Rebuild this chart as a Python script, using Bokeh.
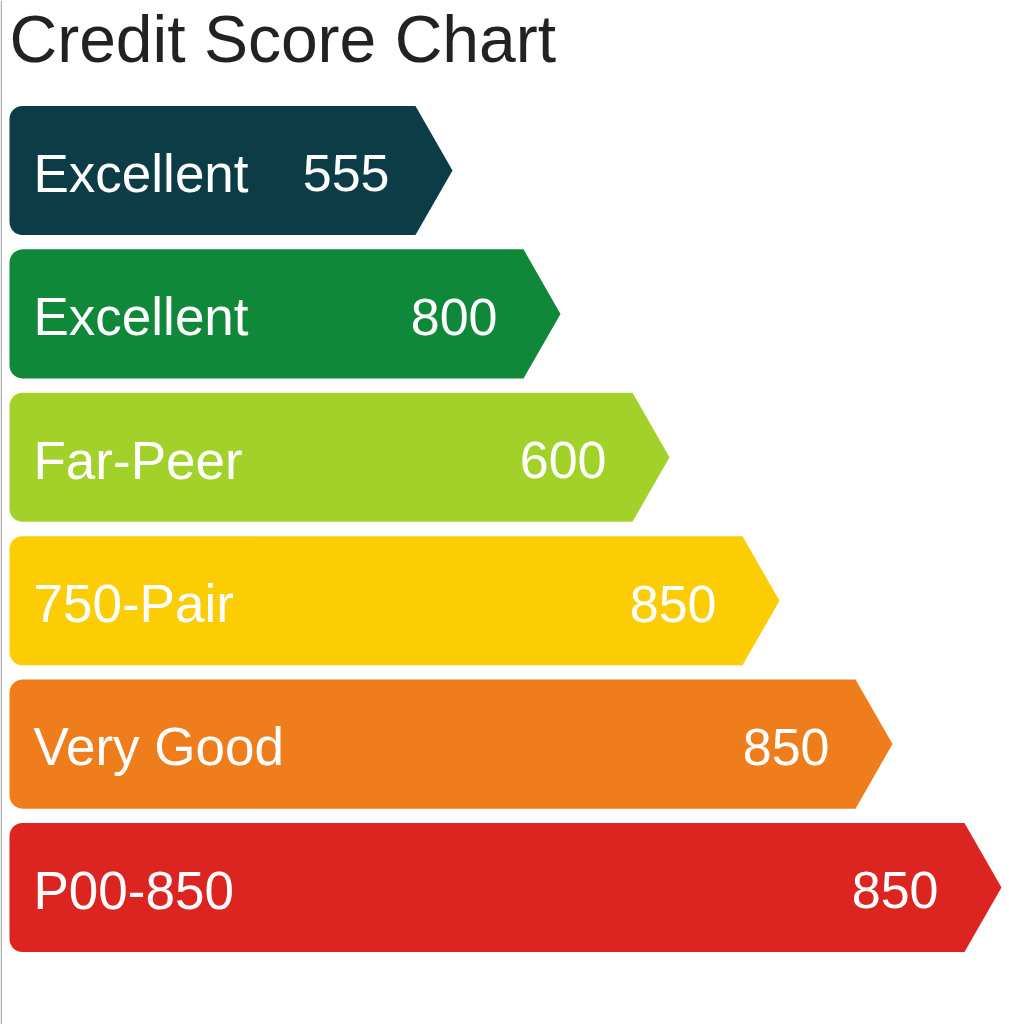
import numpy as np
from bokeh.plotting import figure
from bokeh.models import Range1d, Label, ColumnDataSource
from bokeh.core.properties import value
from bokeh.embed import file_html
from bokeh.resources import INLINE

# ---- data ----
title_text = "Credit Score Chart"
categories = ["Excellent", "Excellent", "Far-Peer", "750-Pair", "Very Good", "P00-850"]
score_labels = ["555", "800", "600", "850", "850", "850"]
bar_length = [406, 514, 623, 733, 846, 955]   # length of the flat part of each arrow (x units)
colors = ["#0c3d46", "#10883a", "#a2d22a", "#fccd05", "#ef7d1c", "#dc2520"]

# ---- geometry helpers (shape only) ----
W, H = 1009, 1024
x0 = 9.0                 # left start of bars
tip = 37.0               # arrow tip depth (x units)
px_per_row = 143.4
center0 = 170.0
bar_h = 0.9              # bar height in row units
radius_px = 13.0

y_top = -center0 / px_per_row
y_bot = (H - center0) / px_per_row

p = figure(width=W, height=H, output_backend="svg", toolbar_location=None,
           x_range=Range1d(0, W), y_range=Range1d(y_bot, y_top),
           min_border=0, min_border_left=0, min_border_right=0,
           min_border_top=0, min_border_bottom=0)
p.axis.visible = False
p.grid.visible = False
p.outline_line_color = None
p.background_fill_color = "white"
p.border_fill_color = "white"

ry = radius_px / px_per_row
xs, ys = [], []
for i, L in enumerate(bar_length):
    yc = i
    yt = yc - bar_h / 2
    yb = yc + bar_h / 2
    xe = x0 + L
    px, py = [], []
    for a in np.linspace(np.pi, 1.5 * np.pi, 8):
        px.append(x0 + radius_px + radius_px * np.cos(a))
        py.append(yt + ry + ry * np.sin(a))
    px += [xe, xe + tip, xe]
    py += [yt, yc, yb]
    for a in np.linspace(0.5 * np.pi, np.pi, 8):
        px.append(x0 + radius_px + radius_px * np.cos(a))
        py.append(yb - ry + ry * np.sin(a))
    xs.append(px)
    ys.append(py)

src = ColumnDataSource(dict(xs=xs, ys=ys, color=colors))
p.patches("xs", "ys", source=src, fill_color="color", line_color=None)

idx = list(range(len(categories)))
lab_src = ColumnDataSource(dict(
    x=[x0 + 24] * len(categories),
    y=[i + 0.02 for i in idx],
    text=categories,
    sx=[x0 + L - 26 for L in bar_length],
    score=score_labels,
))
p.text(x="x", y="y", text="text", source=lab_src, text_color="white",
       text_font=value("Liberation Sans"), text_font_size="53px",
       text_baseline="middle", text_align="left")
p.text(x="sx", y="y", text="score", source=lab_src, text_color="white",
       text_font=value("Liberation Sans"), text_font_size="52px",
       text_baseline="middle", text_align="right")

# left gray border line
p.segment(x0=[0.8], y0=[y_top], x1=[0.8], y1=[y_bot], line_color="#b0b0b0", line_width=1.5)

title = Label(x=9, y=H - 38, x_units="screen", y_units="screen", text=title_text,
              text_font="Liberation Sans", text_font_size="66px", text_color="#222222",
              text_baseline="alphabetic")
p.add_layout(title)

open("out.html", "w").write(file_html(p, INLINE))
